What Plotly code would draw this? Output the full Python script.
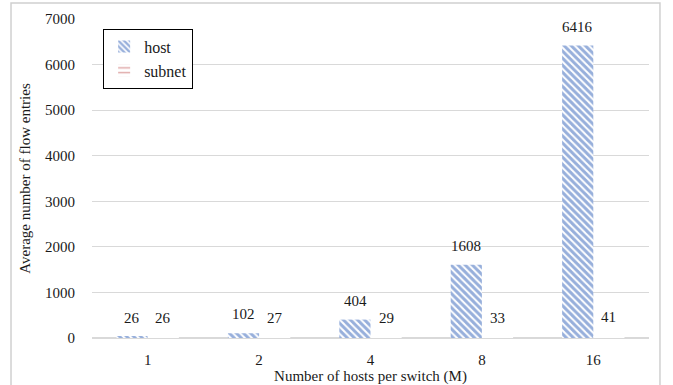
import plotly.graph_objects as go

categories = ["1", "2", "4", "8", "16"]
host_values = [26, 102, 404, 1608, 6416]
subnet_values = [26, 27, 29, 33, 41]
y_ticks = [0, 1000, 2000, 3000, 4000, 5000, 6000, 7000]

FONT = "Liberation Serif"
TXT = "#1a1a1a"
GRID = "#d9d9d9"

fig = go.Figure()
fig.add_trace(go.Bar(
    name="host", x=categories, y=host_values, offsetgroup="host",
    marker=dict(color="white", line=dict(width=0),
                pattern=dict(shape="\\", fgcolor="#3060B8", bgcolor="white",
                             size=5, solidity=0.6)),
))
fig.add_trace(go.Bar(
    name="subnet", x=categories, y=subnet_values, offsetgroup="subnet",
    marker=dict(color="white", line=dict(width=0),
                pattern=dict(shape="-", fgcolor="#C0504D", bgcolor="white",
                             size=6, solidity=0.3)),
))

annotations = []
for i, (h, s) in enumerate(zip(host_values, subnet_values)):
    annotations.append(dict(x=i, y=h, xref="x", yref="y", text=str(h), showarrow=False,
                            xshift=-15.5, yshift=19,
                            font=dict(family=FONT, size=15, color=TXT)))
    annotations.append(dict(x=i, y=s, xref="x", yref="y", text=str(s), showarrow=False,
                            xshift=15.5, yshift=19,
                            font=dict(family=FONT, size=15, color=TXT)))

fig.update_layout(
    width=673, height=385,
    margin=dict(l=92, r=24, t=19, b=47),
    paper_bgcolor="white", plot_bgcolor="white",
    font=dict(family=FONT, size=15, color=TXT),
    barmode="group", bargap=0.44, bargroupgap=0,
    annotations=annotations,
    showlegend=True,
    legend=dict(x=0.02, y=0.97, xanchor="left", yanchor="top",
                bordercolor="black", borderwidth=1, bgcolor="white",
                font=dict(family=FONT, size=16, color=TXT),
                tracegroupgap=0, itemwidth=30),
    xaxis=dict(type="category", range=[-0.5, 4.5], showgrid=False, showline=False,
               zeroline=False, automargin=False,
               ticks="outside", ticklen=8, tickcolor="rgba(0,0,0,0)",
               tickfont=dict(family=FONT, size=15, color=TXT),
               title=dict(text="Number of hosts per switch (M)", standoff=2,
                          font=dict(family=FONT, size=15, color=TXT))),
    yaxis=dict(range=[0, 7000], tickvals=y_ticks, showgrid=True, gridcolor=GRID,
               gridwidth=1, zeroline=True, zerolinecolor=GRID, zerolinewidth=1.5,
               showline=False, automargin=False,
               ticks="outside", ticklen=13, tickcolor="rgba(0,0,0,0)",
               tickfont=dict(family=FONT, size=15, color=TXT),
               title=dict(text="Average number of flow entries", standoff=10,
                          font=dict(family=FONT, size=15, color=TXT))),
    shapes=[dict(type="rect", xref="paper", yref="paper",
                 x0=-0.1454, x1=1.0197, y0=-0.15, y1=1.0502,
                 line=dict(color="#d0d0d0", width=1.5), fillcolor="rgba(0,0,0,0)",
                 layer="above")],
)

fig.write_html("out.html", config={"displayModeBar": False},
               post_script="document.body.style.margin='0';document.body.style.padding='0';")
